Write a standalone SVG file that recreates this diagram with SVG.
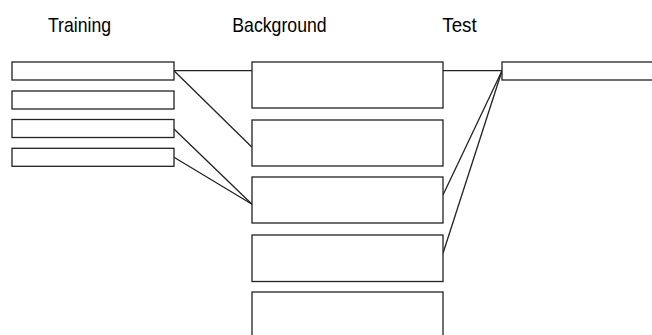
<svg xmlns="http://www.w3.org/2000/svg" width="652" height="335" viewBox="0 0 652 335">
<style>
.b{fill:#fff;stroke:#222;stroke-width:1.3}
.c{fill:none;stroke:#222;stroke-width:1.3}
.t{font-family:"Liberation Sans",Arial,sans-serif;font-size:21px;fill:#000}
</style>
<rect width="652" height="335" fill="#fff"/>
<g id="labels">
<text class="t" x="48" y="32.3" textLength="63" lengthAdjust="spacingAndGlyphs">Training</text>
<text class="t" x="232.3" y="32.3" textLength="94.4" lengthAdjust="spacingAndGlyphs">Background</text>
<text class="t" x="442.3" y="32.3" textLength="34.4" lengthAdjust="spacingAndGlyphs">Test</text>
</g>
<g id="connectors">
<line class="c" x1="174" y1="70.7" x2="252" y2="70.7"/>
<line class="c" x1="174" y1="70.7" x2="252" y2="147.3"/>
<line class="c" x1="174" y1="129" x2="252" y2="204.3"/>
<line class="c" x1="174" y1="157.3" x2="252" y2="204.3"/>
<line class="c" x1="443" y1="70.7" x2="502" y2="70.7"/>
<line class="c" x1="502" y1="70.7" x2="443" y2="195"/>
<line class="c" x1="502" y1="70.7" x2="443" y2="253.3"/>
</g>
<g id="train1"><rect class="b" x="12" y="62" width="162" height="18"/></g>
<g id="train2"><rect class="b" x="12" y="91" width="162" height="18"/></g>
<g id="train3"><rect class="b" x="12" y="119.5" width="162" height="18"/></g>
<g id="train4"><rect class="b" x="12" y="148.3" width="162" height="18"/></g>
<g id="bg1"><rect class="b" x="252" y="62" width="191" height="46"/></g>
<g id="bg2"><rect class="b" x="252" y="120" width="191" height="46"/></g>
<g id="bg3"><rect class="b" x="252" y="177" width="191" height="46"/></g>
<g id="bg4"><rect class="b" x="252" y="235" width="191" height="46.5"/></g>
<g id="bg5"><rect class="b" x="252" y="292" width="191" height="46"/></g>
<g id="test1"><rect class="b" x="502" y="62" width="160" height="18"/></g>
</svg>
